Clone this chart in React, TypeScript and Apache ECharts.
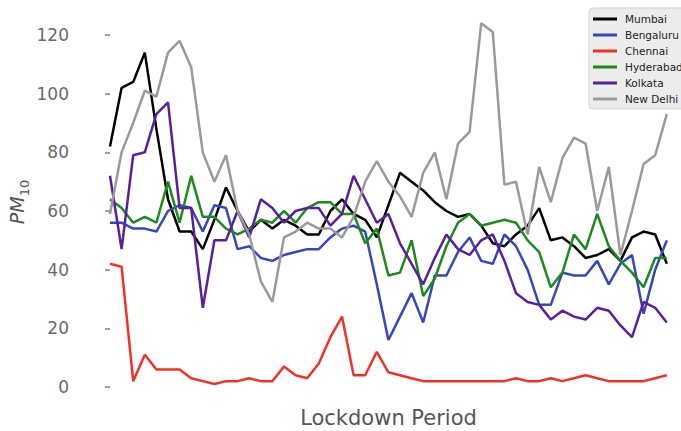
import React, { useEffect, useRef } from "react";
import * as echarts from "echarts";

const cities = ["Mumbai", "Bengaluru", "Chennai", "Hyderabad", "Kolkata", "New Delhi"];
const colors = ["#000000", "#3646bd", "#ee3326", "#1d8a1d", "#5a1f9c", "#9a9a9a"];

const mumbai = [82, 102, 104, 114, 88, 64, 53, 53, 47, 57, 68, 60, 53, 57, 54, 57, 55, 52, 52, 60, 64, 59, 57, 51, 62, 73, 70, 67, 63, 60, 58, 59, 55, 49, 48, 52, 55, 61, 50, 51, 48, 44, 45, 47, 43, 51, 53, 52, 42];
const bengaluru = [56, 56, 54, 54, 53, 60, 62, 61, 53, 62, 61, 47, 48, 44, 43, 45, 46, 47, 47, 51, 54, 55, 53, 35, 16, 24, 32, 22, 38, 38, 46, 51, 43, 42, 52, 48, 40, 28, 28, 39, 38, 38, 43, 35, 42, 45, 25, 40, 50];
const chennai = [42, 41, 2, 11, 6, 6, 6, 3, 2, 1, 2, 2, 3, 2, 2, 7, 4, 3, 8, 17, 24, 4, 4, 12, 5, 4, 3, 2, 2, 2, 2, 2, 2, 2, 2, 3, 2, 2, 3, 2, 3, 4, 3, 2, 2, 2, 2, 3, 4];
const hyderabad = [64, 61, 56, 58, 56, 70, 56, 72, 58, 58, 54, 52, 54, 57, 56, 60, 56, 61, 63, 63, 59, 59, 49, 54, 38, 39, 50, 31, 37, 48, 56, 59, 55, 56, 57, 56, 50, 46, 34, 39, 52, 47, 59, 48, 43, 39, 34, 44, 44];
const kolkata = [72, 47, 79, 80, 93, 97, 61, 61, 27, 50, 50, 60, 51, 64, 61, 56, 60, 61, 61, 55, 59, 72, 64, 56, 59, 49, 42, 35, 44, 52, 47, 45, 50, 52, 43, 32, 29, 28, 23, 26, 24, 23, 27, 26, 21, 17, 29, 27, 22];
const newDelhi = [59, 80, 90, 101, 99, 114, 118, 109, 80, 70, 79, 60, 52, 36, 29, 51, 53, 56, 54, 54, 51, 58, 70, 77, 70, 65, 58, 73, 80, 64, 83, 87, 124, 121, 69, 70, 52, 75, 63, 78, 85, 83, 60, 75, 45, 60, 76, 79, 93];

const yTicks = [0, 20, 40, 60, 80, 100, 120];
const xTitle = "Lockdown Period";

const allSeries = [mumbai, bengaluru, chennai, hyderabad, kolkata, newDelhi];
const FONT = "DejaVu Sans";

export default function App() {
  const ref = useRef<HTMLDivElement>(null);
  useEffect(() => {
    const chart = echarts.init(ref.current!, null, { renderer: "svg" });
    const n = mumbai.length;
    chart.setOption({
      animation: false,
      backgroundColor: "#ffffff",
      grid: { left: 82, right: 0, top: 5.67, bottom: 29.33, containLabel: false },
      xAxis: {
        type: "value",
        min: (82 - 110) / 11.6,
        max: (681 - 110) / 11.6,
        axisLine: { show: false },
        axisTick: { show: false },
        axisLabel: { show: false },
        splitLine: { show: false },
      },
      yAxis: {
        type: "value",
        min: -5,
        max: 130,
        axisLine: { show: false },
        splitLine: { show: false },
        axisTick: {
          show: true,
          customValues: yTicks,
          length: 5,
          lineStyle: { color: "#808080", width: 1.5 },
        },
        axisLabel: {
          customValues: yTicks,
          margin: 13,
          fontSize: 17,
          fontFamily: FONT,
          color: "#6a6a6a",
        },
      },
      legend: {
        data: cities,
        orient: "vertical",
        left: 589,
        top: 8,
        padding: [5, 8, 4, 4],
        itemGap: 4,
        itemWidth: 24,
        itemHeight: 3,
        icon: "rect",
        backgroundColor: "#ececec",
        borderColor: "#d2d2d2",
        borderWidth: 1,
        borderRadius: 4,
        textStyle: {
          fontSize: 10.5,
          lineHeight: 12,
          fontFamily: FONT,
          color: "#222222",
          padding: [0, 0, 0, 3],
        },
      },
      graphic: [
        {
          type: "text",
          x: 388.5,
          y: 418,
          style: {
            text: xTitle,
            fontSize: 21,
            fontFamily: FONT,
            fill: "#555555",
            align: "center",
            verticalAlign: "middle",
          },
        },
        {
          type: "text",
          x: 17,
          y: 202,
          rotation: Math.PI / 2,
          style: {
            text: "{i|PM}{s|10}",
            align: "center",
            verticalAlign: "middle",
            fill: "#555555",
            rich: {
              i: {
                fontSize: 19,
                fontStyle: "italic",
                fontFamily: FONT,
                fill: "#555555",
                lineHeight: 28,
                verticalAlign: "middle",
              },
              s: {
                fontSize: 13,
                fontFamily: FONT,
                fill: "#555555",
                lineHeight: 28,
                verticalAlign: "bottom",
              },
            },
          },
        },
      ],
      series: allSeries.map((vals, k) => ({
        name: cities[k],
        type: "line",
        data: vals.slice(0, n).map((v, i) => [i, v]),
        showSymbol: false,
        symbol: "none",
        lineStyle: { width: 2.5, color: colors[k] },
        itemStyle: { color: colors[k] },
        z: 2 + k,
      })),
    });
    return () => chart.dispose();
  }, []);
  return (
    <div
      ref={ref}
      style={{ position: "fixed", left: 0, top: 0, width: 681, height: 431 }}
    />
  );
}
